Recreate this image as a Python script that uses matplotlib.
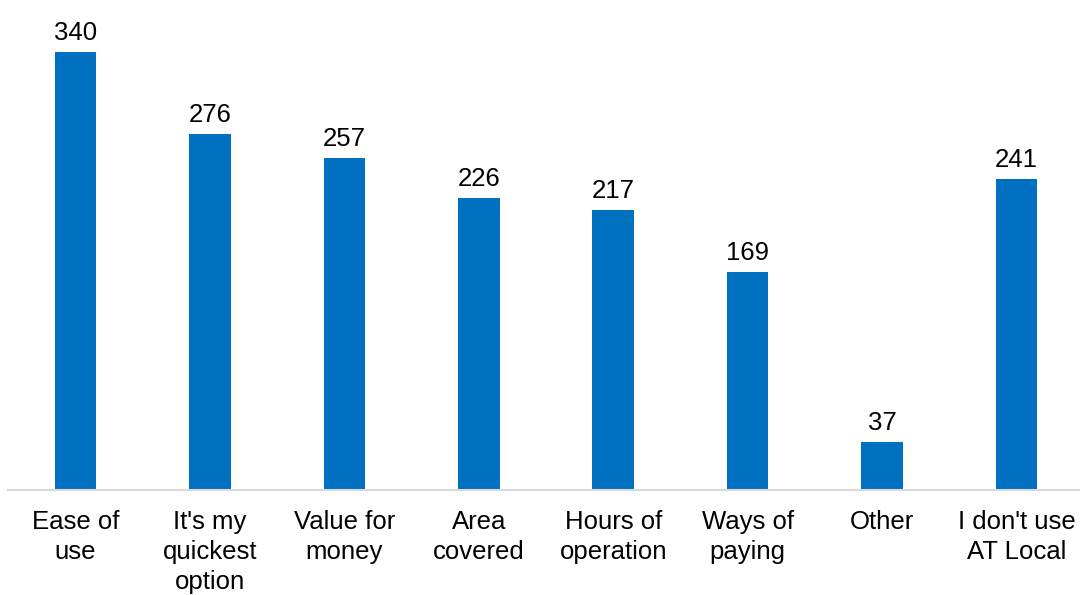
import matplotlib
matplotlib.use("Agg")
import matplotlib.pyplot as plt

categories = ["Ease of\nuse", "It's my\nquickest\noption", "Value for\nmoney", "Area\ncovered",
              "Hours of\noperation", "Ways of\npaying", "Other", "I don't use\nAT Local"]
counts = [340, 276, 257, 226, 217, 169, 37, 241]

plt.rcParams["font.family"] = ["Liberation Sans", "DejaVu Sans"]

fig = plt.figure(figsize=(10.8, 5.95), dpi=100)
ax = fig.add_axes([8.3 / 1080, 105.5 / 595, 1075.4 / 1080, 489.5 / 595])

x = list(range(len(categories)))
bars = ax.bar(x, counts, width=0.31, color="#0070C0", zorder=2)

for rect, v in zip(bars, counts):
    ax.annotate(f"{v}", (rect.get_x() + rect.get_width() / 2, rect.get_height()),
                xytext=(0, 5), textcoords="offset points",
                ha="center", va="bottom", fontsize=18.5, color="black")

ax.set_xlim(-0.5, len(categories) - 0.5)
ax.set_ylim(0, 380)
ax.set_xticks(x)
ax.set_xticklabels(categories, fontsize=18.5, linespacing=1.3)
ax.tick_params(axis="x", length=0, pad=15)
ax.set_yticks([])

for side in ("left", "right", "top"):
    ax.spines[side].set_visible(False)
ax.spines["bottom"].set_color("#D9D9D9")
ax.spines["bottom"].set_linewidth(1.5)

fig.savefig("out.png", dpi=100)
